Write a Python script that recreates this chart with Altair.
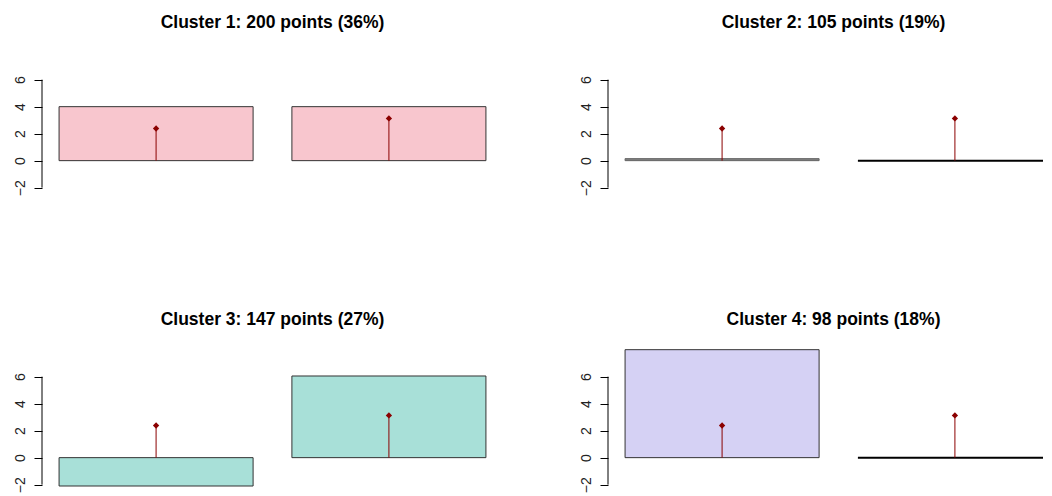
import altair as alt
import pandas as pd

titles = ["Cluster 1: 200 points (36%)", "Cluster 2: 105 points (19%)",
          "Cluster 3: 147 points (27%)", "Cluster 4: 98 points (18%)"]
variables = ["V1", "V2"]
cluster_values = [[4.0, 4.0], [0.15, 0.0], [-2.1, 6.05], [8.0, 0.0]]
overall_means = [2.38, 3.13]
fill_colors = ["#F8C6CE", "#7F7F7F", "#A8E0D8", "#D5D1F4"]
border_colors = ["#333333", "#666666", "#333333", "#333333"]
y_ticks = [-2, 0, 2, 4, 6]

FONT = "Liberation Sans"
FULL_W = 461   # full width of a panel's bar scale
PLOT_H = 137


def panel(i, right=False):
    df = pd.DataFrame({"var": variables, "value": cluster_values[i], "mean": overall_means})
    axis_df = pd.DataFrame({"lo": [min(y_ticks)], "hi": [max(y_ticks)]})
    xscale = alt.Scale(domain=variables, paddingInner=0.2 / 1.2, paddingOuter=0.0733,
                       range=[0, FULL_W])
    yscale = alt.Scale(domain=[-2.1, 8.05], nice=False, zero=False)
    yaxis = alt.Axis(values=y_ticks, domain=False, grid=False, ticks=True,
                     tickSize=8, tickColor="black", tickWidth=1,
                     labelAngle=270, labelAlign="center", labelBaseline="bottom",
                     labelPadding=7, labelFontSize=14, labelFont=FONT,
                     labelColor="#222222", labelOverlap=False, labelBound=False,
                     labelFlush=False, title=None)
    base = alt.Chart(df)
    bars = base.mark_rect(fill=fill_colors[i], clip=right).encode(
        x=alt.X("var:N", scale=xscale, axis=None),
        y=alt.Y("value:Q", scale=yscale, axis=yaxis),
        y2=alt.datum(0),
        stroke=alt.condition("datum.value == 0", alt.value("black"),
                             alt.value(border_colors[i])),
        strokeWidth=alt.condition("datum.value == 0", alt.value(2), alt.value(1)),
    )
    axis_line = alt.Chart(axis_df).mark_rule(color="black", strokeWidth=1).encode(
        x=alt.value(0),
        y=alt.Y("lo:Q", scale=yscale, axis=yaxis),
        y2="hi:Q",
    )
    stems = base.mark_rule(color="#8B0000", strokeWidth=1, clip=right).encode(
        x=alt.X("var:N", scale=xscale, axis=None),
        y=alt.Y("mean:Q", scale=yscale, axis=yaxis),
        y2=alt.datum(0),
    )
    points = base.mark_point(shape="diamond", filled=True, color="#8B0000",
                             size=40, opacity=1, clip=right).encode(
        x=alt.X("var:N", scale=xscale, axis=None),
        y=alt.Y("mean:Q", scale=yscale, axis=yaxis),
    )
    width = 435 if right else FULL_W
    return alt.layer(bars, axis_line, stems, points).properties(
        width=width, height=PLOT_H,
        title=alt.TitleParams(titles[i], fontSize=17.5, font=FONT, fontWeight="bold",
                              offset=21, anchor="middle", color="black",
                              dx=8 if right else 0),
    )


row1 = alt.hconcat(panel(0), panel(1, right=True), spacing=76)
row2 = alt.hconcat(panel(2), panel(3, right=True), spacing=76)
chart = alt.vconcat(row1, row2, spacing=114).properties(
    padding={"left": 5, "top": 5, "right": 0, "bottom": 0},
    background="white",
).configure_view(stroke=None).configure_axisY(
    labelOverlap=False, labelFontSize=14, labelFont=FONT, labelColor="#222222",
    labelBound=False, labelFlush=False,
)

chart.save("out.html", embed_options={"renderer": "svg", "actions": False})
